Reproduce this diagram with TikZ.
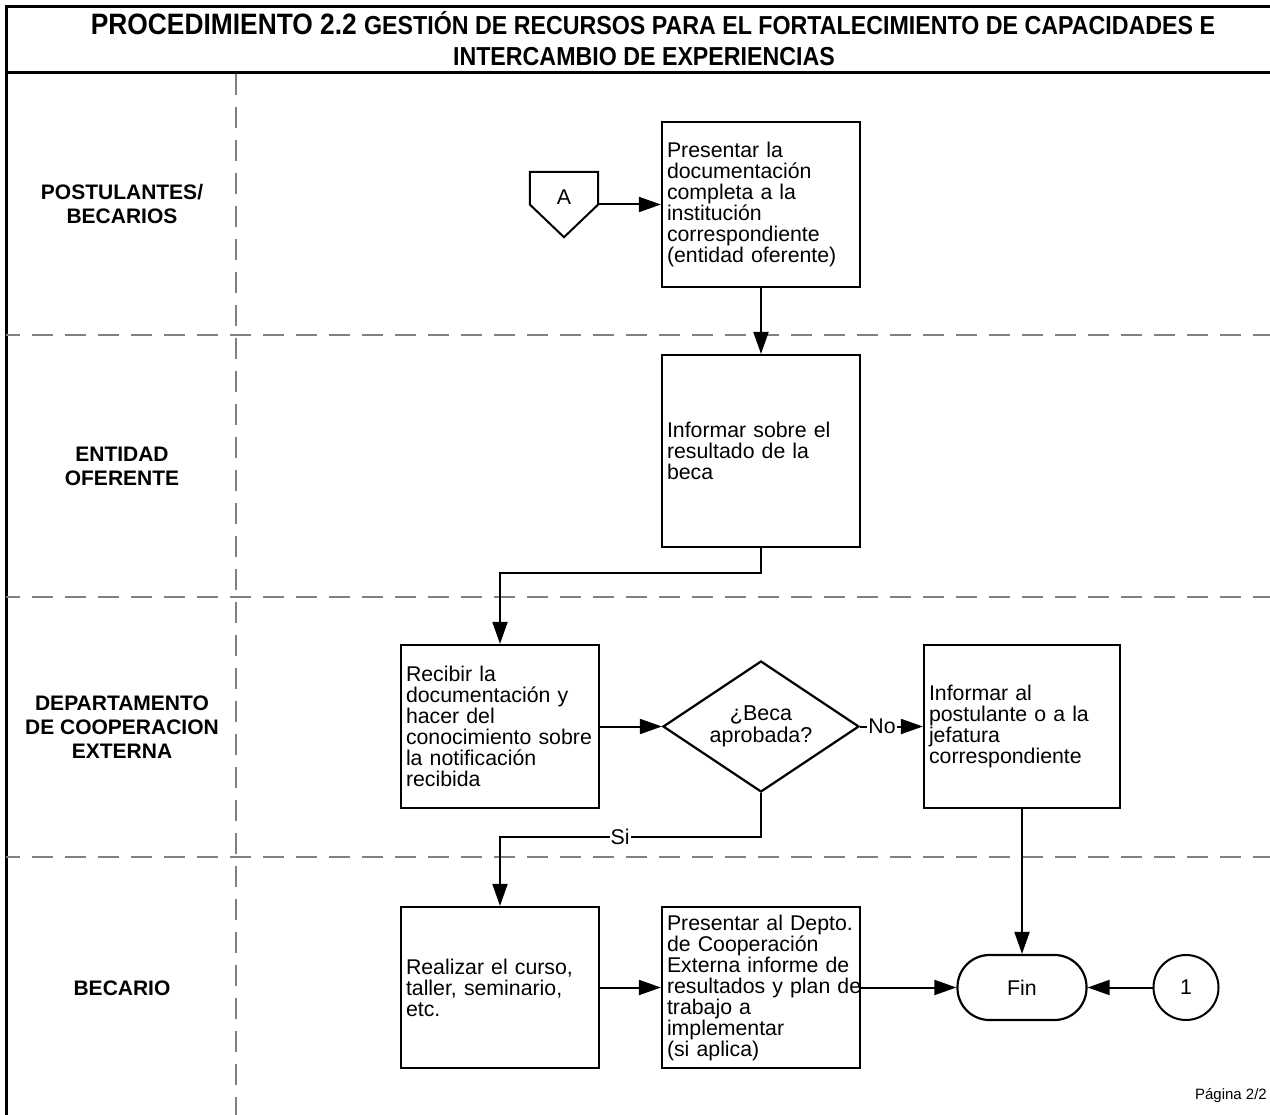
\documentclass[tikz,border=0pt]{standalone}
\usepackage{fontspec}
\setmainfont{Liberation Sans}
\usetikzlibrary{arrows.meta,shapes.geometric}
\definecolor{lanegray}{RGB}{128,128,128}

\begin{document}
\begin{tikzpicture}[x=1pt,y=-1pt,
  every node/.style={font=\fontsize{21.3}{21}\selectfont},
  proc/.style={draw, line width=2.2pt, minimum width=198pt, text width=188pt,
    inner xsep=5pt, inner ysep=0pt, align=left},
  decision/.style={draw, diamond, aspect=1.5, line width=2.2pt, minimum width=196pt,
    minimum height=131pt, inner sep=0pt, align=center,
    font=\fontsize{21.5}{22}\selectfont},
  terminal/.style={draw, line width=2.2pt, rounded corners=32pt,
    minimum width=129pt, minimum height=65pt, inner sep=0pt},
  connector/.style={draw, circle, line width=2pt, minimum size=65pt, inner sep=0pt},
  lane/.style={font=\bfseries\fontsize{21}{24}\selectfont, align=center},
  flow/.style={line width=2pt, -{Triangle[length=22pt,width=15pt]}},
  lanesep/.style={lanegray, line width=2.5pt, dash pattern=on 21pt off 12pt},
  frame/.style={line width=3pt},
  tag/.style={fill=white, inner sep=1pt}
]
\useasboundingbox (0,0) rectangle (1270,1115);

% outer frame and title band
\draw[frame] (1270,7) -- (6,7) -- (6,1117);
\draw[frame] (6,73) -- (1270,73);

\node[anchor=base, inner sep=0pt] (title1) at (653,35)
  {\scalebox{0.893}[1]{\bfseries\fontsize{29.5}{30}\selectfont PROCEDIMIENTO 2.2
   \fontsize{26}{26}\selectfont GESTIÓN DE RECURSOS PARA EL FORTALECIMIENTO DE CAPACIDADES E}};
\node[anchor=base, inner sep=0pt] (title2) at (644,66)
  {\scalebox{0.893}[1]{\bfseries\fontsize{26}{26}\selectfont INTERCAMBIO DE EXPERIENCIAS}};

% swimlane separators
\draw[lanesep, dash phase=7pt] (6,335) -- (1270,335);
\draw[lanesep, dash phase=7pt] (6,597) -- (1270,597);
\draw[lanesep, dash phase=7pt] (6,857) -- (1270,857);
\draw[lanesep] (236,74) -- (236,1115);

% lane titles
\node[lane] (lane1) at (122,204) {POSTULANTES/\\BECARIOS};
\node[lane] (lane2) at (122,466) {ENTIDAD\\OFERENTE};
\node[lane] (lane3) at (122,727) {DEPARTAMENTO\\DE COOPERACION\\EXTERNA};
\node[lane] (lane4) at (122,988) {BECARIO};

% off-page connector A
\node[minimum width=68pt, minimum height=65pt, inner sep=0pt] (offA) at (564,204.5) {};
\draw[line width=2pt, line join=miter] (offA.north west) -- (offA.north east) -- (offA.east)
  -- (offA.south) -- (offA.west) -- cycle;
\node (labA) at (564,197) {A};

% process steps
\node[proc, minimum height=165pt] (b1) at (761,204.5)
  {Presentar la\\documentación\\completa a la\\institución\\correspondiente\\(entidad oferente)};
\node[proc, minimum height=192pt] (b2) at (761,451)
  {Informar sobre el\\resultado de la\\beca};
\node[proc, minimum height=163pt] (b3) at (500,726.5)
  {Recibir la\\documentación y\\hacer del\\\mbox{conocimiento sobre}\\la notificación\\recibida};
\node[decision] (dec) at (761,726.5) {¿Beca\\aprobada?};
\node[proc, minimum width=196pt, text width=186pt, minimum height=163pt] (b4) at (1022,726.5)
  {Informar al\\\mbox{postulante o a la}\\jefatura\\correspondiente};
\node[proc, minimum height=161pt] (b5) at (500,987.5)
  {Realizar el curso,\\taller, seminario,\\etc.};
\node[proc, minimum height=161pt] (b6) at (761,987.5)
  {\mbox{Presentar al Depto.}\\de Cooperación\\\mbox{Externa informe de}\\\mbox{resultados y plan de}\\trabajo a\\implementar\\(si aplica)};
\node[terminal] (fin) at (1022,987.5) {Fin};
\node[connector] (c1) at (1186,987.5) {1};

% connectors
\draw[flow] (offA.east) -- (b1.west);
\draw[flow] (b1.south) -- (b2.north);
\draw[flow] (b2.south) -- ++(0,25) -| (b3.north);
\draw[flow] (b3.east) -- (dec.west);
\draw[flow] (dec.east) -- node[tag, pos=0.35] {No} (b4.west);
\draw[flow] (dec.south) -- ++(0,44) -| node[tag, pos=0.27] {Si} (b5.north);
\draw[flow] (b5.east) -- (b6.west);
\draw[flow] (b6.east) -- (fin.west);
\draw[flow] (b4.south) -- (fin.north);
\draw[flow] (c1.west) -- (fin.east);

% page number
\node[anchor=base east, inner sep=0pt, font=\fontsize{15}{17}\selectfont] (page) at (1267,1099) {Página 2/2};
\end{tikzpicture}
\end{document}
